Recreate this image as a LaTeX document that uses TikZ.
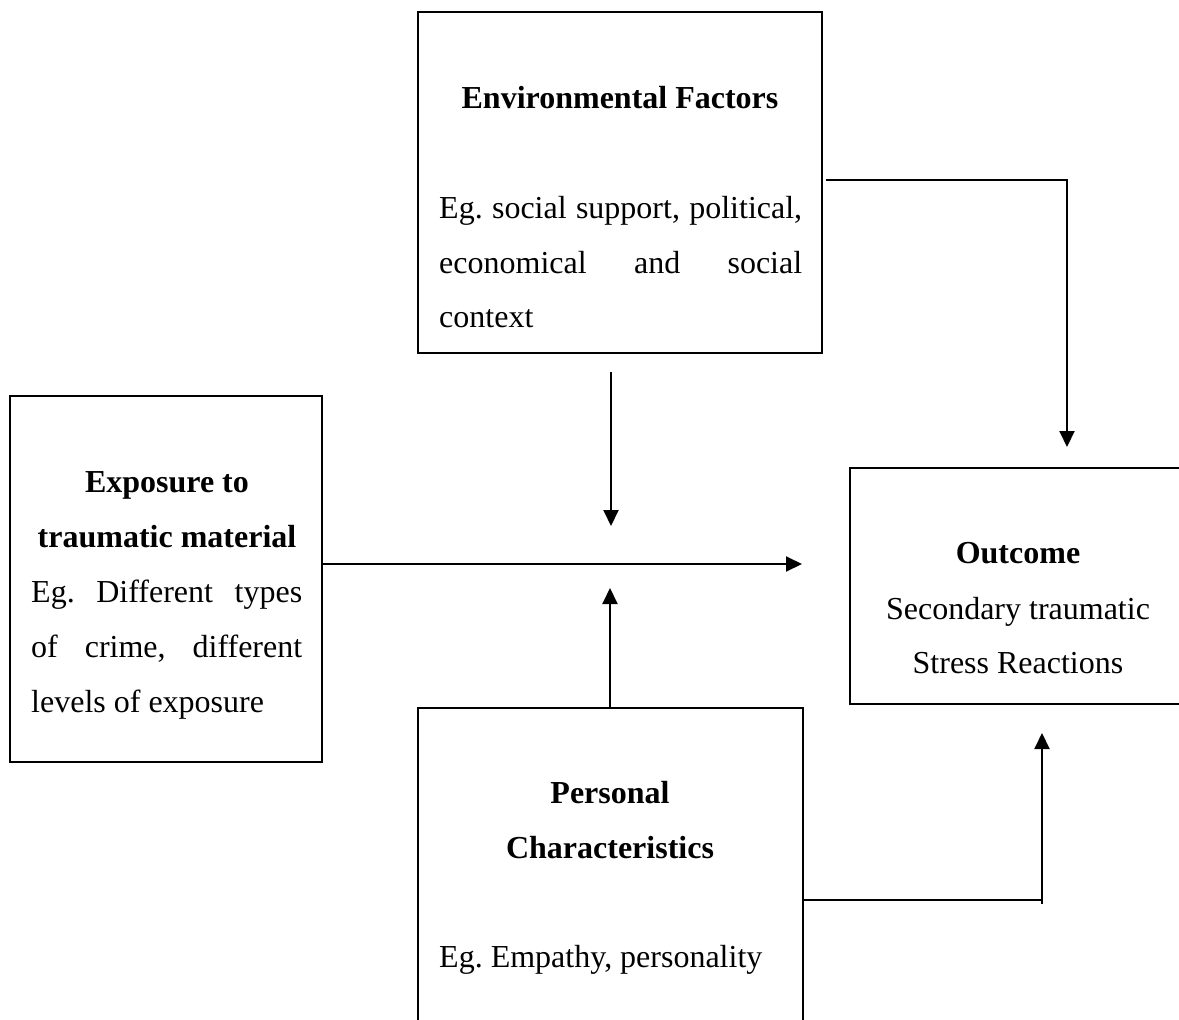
\documentclass[tikz,border=0pt]{standalone}
\usepackage{fontspec}
\setmainfont{Liberation Serif}
\usetikzlibrary{arrows.meta}
\frenchspacing
\begin{document}
\begin{tikzpicture}[x=1pt,y=-1pt,
  frame/.style={draw, line width=2pt, inner sep=0pt, outer sep=0pt, anchor=north west},
  link/.style={line width=2pt},
  arr/.style={link, -{Triangle[length=16pt,width=15pt]}},
  label/.style={inner sep=0pt, anchor=base, font=\fontsize{32}{55}\selectfont},
  body/.style={label, anchor=base west},
]
\clip (0,0) rectangle (1179,1020);
\fill[white] (0,0) rectangle (1179,1020);

% boxes
\node[frame, minimum width=404pt, minimum height=341pt] (env)  at (418,12)  {};
\node[frame, minimum width=312pt, minimum height=366pt] (expo) at (10,396)  {};
\node[frame, minimum width=336pt, minimum height=236pt] (outc) at (850,468) {};
\node[frame, minimum width=385pt, minimum height=340pt] (pers) at (418,708) {};

% Environmental Factors
\node[label] (envT) at (620,108) {\bfseries Environmental Factors};
\node[body] (envB1) at (439,218) {\makebox[363pt][s]{Eg. social support, political,}};
\node[body] (envB2) at (439,273) {\makebox[363pt][s]{economical and social}};
\node[body] (envB3) at (439,327) {context};

% Exposure to traumatic material
\node[label] (expoT1) at (167,492) {\bfseries Exposure to};
\node[label] (expoT2) at (167,547) {\bfseries traumatic material};
\node[body] (expoB1) at (31,602) {\makebox[271pt][s]{Eg. Different types}};
\node[body] (expoB2) at (31,657) {\makebox[271pt][s]{of crime, different}};
\node[body] (expoB3) at (31,712) {levels of exposure};

% Outcome
\node[label] (outT)  at (1018,563) {\bfseries Outcome};
\node[label] (outB1) at (1018,619) {Secondary traumatic};
\node[label] (outB2) at (1018,673) {Stress Reactions};

% Personal Characteristics
\node[label] (persT1) at (610,803) {\bfseries Personal};
\node[label] (persT2) at (610,858) {\bfseries Characteristics};
\node[body] (persB) at (439,967) {Eg. Empathy, personality};

% connector end points
\coordinate (mid)    at (802,564);
\coordinate (envTip) at (611,526);
\coordinate (envOut) at (826,180);
\coordinate (tipA)   at (1067,447);
\coordinate (tipB)   at (610,588);
\coordinate (turn)   at (1042,900);
\coordinate (foot)   at (1042,904);
\coordinate (tipC)   at (1042,733);

% connectors
\draw[arr] (expo.east |- mid) -- (mid);
\draw[arr] (env.south -| envTip) ++(0,19) -- (envTip);
\draw[arr] (envOut) -| (tipA);
\draw[arr] (pers.north -| tipB) -- (tipB);
\draw[link] (pers.east |- turn) -- (turn);
\draw[arr] (foot) -- (tipC);
\end{tikzpicture}
\end{document}
